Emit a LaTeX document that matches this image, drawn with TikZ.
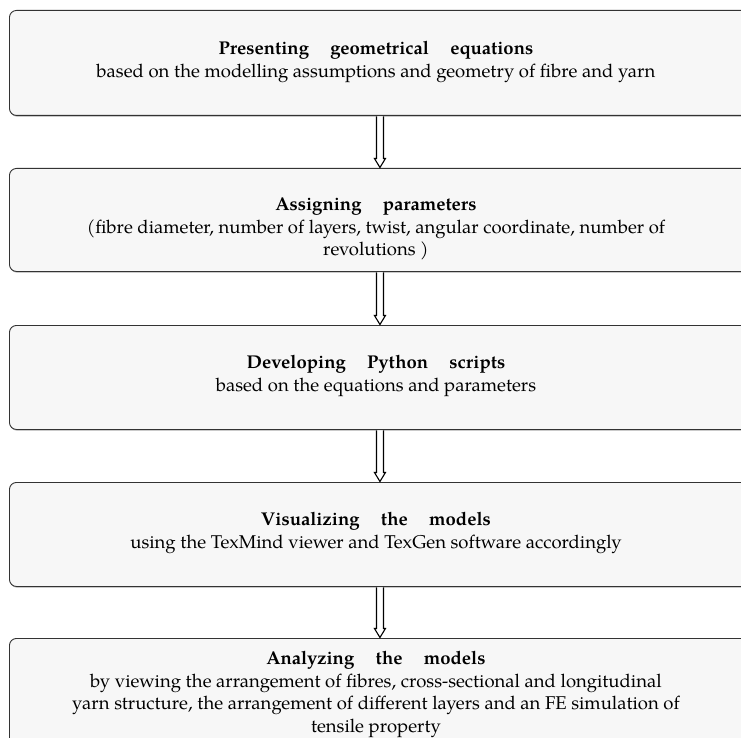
\documentclass[tikz,border=0pt]{standalone}
\usepackage{fontspec}
\setmainfont{TeX Gyre Pagella}
\usetikzlibrary{calc,shadows}

\tikzset{
  stagebox/.style={draw=black!80, line width=0.9pt, fill=black!3, rounded corners=7pt,
    minimum width=741pt, anchor=north west, inner sep=0pt,
    drop shadow={shadow xshift=0.6pt, shadow yshift=-1.2pt, fill=black!45, opacity=0.7}},
  stagetext/.style={anchor=north, align=center, inner sep=0pt, font=\fontsize{18.5}{22.5}\selectfont},
  flowline/.style={draw=black, line width=1.1pt, fill=white, line join=miter}
}
% wide gaps between the words of each bold heading
\newcommand{\gapw}{\hspace{1.15em}}

\begin{document}
\begin{tikzpicture}[x=1pt,y=-1pt]
  \useasboundingbox (0,0) rectangle (741,738);
  \clip (0,0) rectangle (741,738);

  % stage boxes
  \node[stagebox, minimum height=105pt] (b1) at (9,10) {};
  \node[stagebox, minimum height=103pt] (b2) at (9,168) {};
  \node[stagebox, minimum height=104pt] (b3) at (9,325) {};
  \node[stagebox, minimum height=104pt] (b4) at (9,482) {};
  \node[stagebox, minimum height=110pt] (b5) at (9,638) {};

  % stage texts
  \node[stagetext] (t1) at ($(b1.north)+(-4,31)$)
    {\textbf{Presenting\gapw geometrical\gapw equations}\\
     based on the modelling assumptions and geometry of fibre and yarn};
  \node[stagetext] (t2) at ($(b2.north)+(-4,30)$)
    {\textbf{Assigning\gapw parameters}\\
     (fibre diameter, number of layers, twist, angular coordinate, number of\\
     revolutions )};
  \node[stagetext] (t3) at ($(b3.north)+(-4,30)$)
    {\textbf{Developing\gapw Python\gapw scripts}\\
     based on the equations and parameters};
  \node[stagetext] (t4) at ($(b4.north)+(-4,30)$)
    {\textbf{Visualizing\gapw the\gapw models}\\
     using the TexMind viewer and TexGen software accordingly};
  \node[stagetext] (t5) at ($(b5.north)+(-4,13)$)
    {\textbf{Analyzing\gapw the\gapw models}\\
     by viewing the arrangement of fibres, cross-sectional and longitudinal\\
     yarn structure, the arrangement of different layers and an FE simulation of\\
     tensile property};

  % hollow arrows between consecutive stages
  \foreach \a/\b in {b1/b2, b2/b3, b3/b4, b4/b5}{
    \coordinate (s) at ($(\a.south)+(0,0.5)$);
    \coordinate (e) at ($(\b.north)+(0,-0.5)$);
    \draw[flowline]
      ($(s)+(-3.5,0)$) -- ($(e)+(-3.5,-9)$) -- ($(e)+(-5.5,-9)$) -- (e)
      -- ($(e)+(5.5,-9)$) -- ($(e)+(3.5,-9)$) -- ($(s)+(3.5,0)$);
  }
\end{tikzpicture}
\end{document}
